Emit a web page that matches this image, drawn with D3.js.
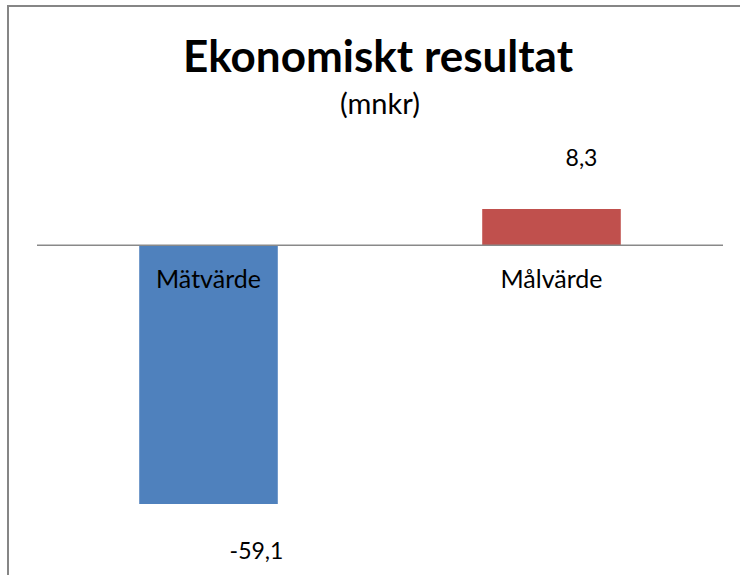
<!DOCTYPE html>
<html>
<head>
<meta charset="utf-8">
<script src="https://cdn.jsdelivr.net/npm/d3@7"></script>
<style>
  html, body { margin: 0; padding: 0; background: #fff; overflow: hidden; }
  svg { display: block; font-family: Lato, "Open Sans", sans-serif; }
</style>
</head>
<body>
<div id="chart"></div>
<script>
    'use strict';

    // chart data
    var categories = ['Mätvärde', 'Målvärde'];
    var values = [-59.1, 8.3];
    var valueLabels = ['-59,1', '8,3'];
    var barColors = ['#4F81BD', '#C0504D'];
    var title = 'Ekonomiskt resultat';
    var subtitle = '(mnkr)';

    var stage = { width: 740, height: 575 };

    var svg = d3.select('#chart')
        .append('svg')
        .attr('width', stage.width)
        .attr('height', stage.height)
        .attr('xmlns', 'http://www.w3.org/2000/svg');

    // chart area frame: only the left and top edges show in the picture
    svg.append('path')
        .attr('d', 'M8,' + stage.height + 'V6H' + stage.width)
        .attr('fill', 'none')
        .attr('stroke', '#868686')
        .attr('stroke-width', 2);

    svg.append('text')
        .attr('x', 378)
        .attr('y', 72)
        .attr('text-anchor', 'middle')
        .attr('font-size', 44)
        .attr('font-weight', 'bold')
        .attr('fill', '#000')
        .text(title);

    svg.append('text')
        .attr('x', 380)
        .attr('y', 114)
        .attr('text-anchor', 'middle')
        .attr('font-size', 29)
        .attr('fill', '#000')
        .text(subtitle);

    var x = d3.scaleBand()
        .domain(categories)
        .range([37, 723])
        .paddingInner(0.596)
        .paddingOuter(0.298);

    var y = d3.scaleLinear()
        .domain([d3.min(values), d3.max(values)])
        .range([504, 209]);

    var bars = categories.map(function(c, i) {
        return { category: c, value: values[i], label: valueLabels[i], color: barColors[i] };
    });

    svg.append('g')
        .attr('class', 'bars')
        .selectAll('rect').data(bars).enter()
        .append('rect')
        .attr('x', function(d) { return x(d.category); })
        .attr('y', function(d) { return y(Math.max(0, d.value)); })
        .attr('width', x.bandwidth())
        .attr('height', function(d) { return Math.abs(y(d.value) - y(0)); })
        .attr('fill', function(d) { return d.color; });

    // zero line (category axis)
    svg.append('line')
        .attr('x1', 37)
        .attr('x2', 723)
        .attr('y1', y(0))
        .attr('y2', y(0))
        .attr('stroke', '#898989')
        .attr('stroke-width', 1.5);

    // category labels sit just under the zero line
    svg.append('g')
        .attr('class', 'category-labels')
        .selectAll('text').data(bars).enter()
        .append('text')
        .attr('x', function(d) { return x(d.category) + x.bandwidth() / 2; })
        .attr('y', y(0) + 43)
        .attr('text-anchor', 'middle')
        .attr('font-size', 25)
        .attr('fill', '#000')
        .text(function(d) { return d.category; });

    // value labels, pushed off to the right like the original
    svg.append('g')
        .attr('class', 'value-labels')
        .selectAll('text').data(bars).enter()
        .append('text')
        .attr('x', function(d) {
            return x(d.category) + x.bandwidth() / 2 + (d.value < 0 ? 48 : 30);
        })
        .attr('y', function(d) {
            return d.value < 0 ? y(d.value) + 55 : y(d.value) - 43;
        })
        .attr('text-anchor', 'middle')
        .attr('font-size', 23)
        .attr('fill', '#000')
        .text(function(d) { return d.label; });
</script>
</body>
</html>
